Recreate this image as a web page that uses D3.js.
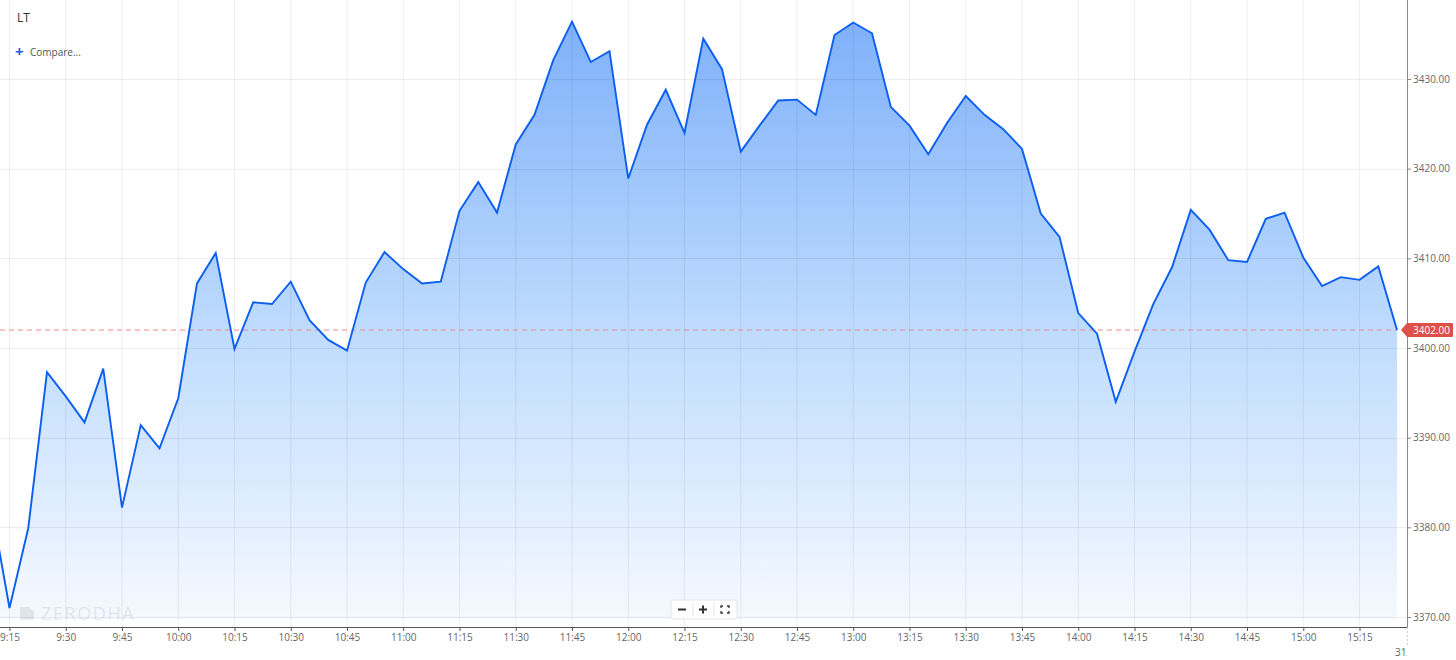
<!DOCTYPE html>
<html>
<head>
<meta charset="utf-8">
<script src="https://cdn.jsdelivr.net/npm/d3@7"></script>
<style>
  html, body { margin: 0; padding: 0; background: #fff; }
  svg { display: block; font-family: "Open Sans", "Noto Sans", sans-serif; }
</style>
</head>
<body>
<svg id="chart" width="1456" height="660"></svg>
<script>
// ---- data ----
const symbol = "LT";
const times = ["9:10","9:15","9:20","9:25","9:30","9:35","9:40","9:45","9:50","9:55",
  "10:00","10:05","10:10","10:15","10:20","10:25","10:30","10:35","10:40","10:45","10:50","10:55",
  "11:00","11:05","11:10","11:15","11:20","11:25","11:30","11:35","11:40","11:45","11:50","11:55",
  "12:00","12:05","12:10","12:15","12:20","12:25","12:30","12:35","12:40","12:45","12:50","12:55",
  "13:00","13:05","13:10","13:15","13:20","13:25","13:30","13:35","13:40","13:45","13:50","13:55",
  "14:00","14:05","14:10","14:15","14:20","14:25","14:30","14:35","14:40","14:45","14:50","14:55",
  "15:00","15:05","15:10","15:15","15:20","15:25"];
const prices = [3382.8,3371.0,3379.9,3397.3,3394.6,3391.7,3397.7,3382.2,3391.4,3388.8,
  3394.4,3407.2,3410.6,3399.9,3405.1,3404.9,3407.4,3403.1,3400.9,3399.7,3407.3,3410.7,
  3408.8,3407.2,3407.4,3415.3,3418.5,3415.1,3422.7,3426.0,3432.1,3436.4,3431.9,3433.1,
  3418.9,3424.9,3428.8,3424.0,3434.5,3431.1,3421.9,3424.8,3427.6,3427.7,3426.0,3434.9,
  3436.3,3435.1,3426.9,3424.8,3421.6,3425.1,3428.1,3426.0,3424.4,3422.2,3415.0,3412.4,
  3403.9,3401.6,3394.0,3399.6,3404.9,3409.0,3415.4,3413.2,3409.8,3409.6,3414.4,3415.1,
  3410.1,3406.9,3407.9,3407.6,3409.1,3402.0];
const lastPrice = 3402.00;
const xTickLabels = ["9:15","9:30","9:45","10:00","10:15","10:30","10:45","11:00","11:15","11:30",
  "11:45","12:00","12:15","12:30","12:45","13:00","13:15","13:30","13:45","14:00","14:15",
  "14:30","14:45","15:00","15:15"];
const yTickValues = [3370,3380,3390,3400,3410,3420,3430];

// ---- helpers ----
const toMin = s => { const [h, m] = s.split(":").map(Number); return h * 60 + m; };
const data = times.map((t, i) => ({ t: toMin(t), v: prices[i] }));

const W = 1456, H = 660;
const plotLeft = 0, plotRight = 1407, plotTop = 0, plotBottom = 627;

const x = d3.scaleLinear()
  .domain([toMin("9:15") - 2.53, toMin("15:25") + 2.66])
  .range([plotLeft, plotRight]);
const y = d3.scaleLinear()
  .domain([3370, 3430])
  .range([617, 79]);

const svg = d3.select("#chart");
const defs = svg.append("defs");
defs.append("clipPath").attr("id", "plotClip")
  .append("rect").attr("x", plotLeft).attr("y", plotTop)
  .attr("width", plotRight - plotLeft).attr("height", plotBottom - plotTop);
defs.append("clipPath").attr("id", "dateClip")
  .append("rect").attr("x", 0).attr("y", plotBottom).attr("width", plotRight).attr("height", 40);

const grad = defs.append("linearGradient").attr("id", "areaGrad")
  .attr("gradientUnits", "userSpaceOnUse")
  .attr("x1", 0).attr("x2", 0).attr("y1", 20).attr("y2", 619);
grad.append("stop").attr("offset", 0).attr("stop-color", "#7fb0fa");
grad.append("stop").attr("offset", 0.5).attr("stop-color", "#bcdafd");
grad.append("stop").attr("offset", 1).attr("stop-color", "#f5f9ff");

const plot = svg.append("g").attr("clip-path", "url(#plotClip)");

// area
const area = d3.area().x(d => x(d.t)).y0(619).y1(d => y(d.v));
plot.append("path").datum(data).attr("d", area).attr("fill", "url(#areaGrad)");

// grid
const grid = plot.append("g");
grid.selectAll("line.v").data(xTickLabels).join("line")
  .attr("x1", d => x(toMin(d))).attr("x2", d => x(toMin(d)))
  .attr("y1", plotTop).attr("y2", plotBottom)
  .attr("stroke", "rgba(0,0,0,0.065)").attr("stroke-width", 1);
grid.selectAll("line.h").data(yTickValues).join("line")
  .attr("x1", plotLeft).attr("x2", plotRight)
  .attr("y1", d => Math.round(y(d)) + 0.5).attr("y2", d => Math.round(y(d)) + 0.5)
  .attr("stroke", "rgba(0,0,0,0.065)").attr("stroke-width", 1);

// watermark
const wm = plot.append("g").attr("opacity", 0.075);
wm.append("path").attr("d", "M20,607 L29,607 L34,612 L34,620 L20,620 Z").attr("fill", "#000");
wm.append("text").attr("x", 41).attr("y", 620).attr("font-size", 18).attr("letter-spacing", 1.6)
  .attr("fill", "#000").text("ZERODHA");

// last price dashed line
plot.append("line")
  .attr("x1", plotLeft).attr("x2", x(data[data.length - 1].t))
  .attr("y1", y(lastPrice)).attr("y2", y(lastPrice))
  .attr("stroke", "#f08a8a").attr("stroke-width", 1).attr("stroke-dasharray", "5,4");

// price line
const line = d3.line().x(d => x(d.t)).y(d => y(d.v));
plot.append("path").datum(data).attr("d", line)
  .attr("fill", "none").attr("stroke", "#0b5ef0").attr("stroke-width", 1.9)
  .attr("stroke-linejoin", "miter");

// bottom axis
const xAxis = d3.axisBottom(x)
  .tickValues(xTickLabels.map(toMin))
  .tickFormat((d, i) => xTickLabels[i])
  .tickSize(4).tickSizeOuter(0);
const gx = svg.append("g").attr("transform", `translate(0,${plotBottom})`).call(xAxis);
gx.select(".domain").attr("stroke", "#555").attr("d", `M0,0.5H${plotRight}`);
gx.selectAll(".tick line").attr("stroke", "#555");
gx.selectAll(".tick text").attr("fill", "#666").attr("font-size", 10)
  .attr("font-family", "Open Sans, sans-serif").attr("dy", "0.95em").attr("y", 4);

// date label (clipped)
svg.append("g").attr("clip-path", "url(#dateClip)")
  .append("text").attr("x", 1395).attr("y", 656).attr("font-size", 10)
  .attr("fill", "#666").text("31/01");
svg.append("line").attr("x1", plotRight + 0.5).attr("x2", plotRight + 0.5)
  .attr("y1", plotBottom).attr("y2", 646)
  .attr("stroke", "#ccc").attr("stroke-dasharray", "2,2");

// right axis
const yAxis = d3.axisRight(y).tickValues(yTickValues)
  .tickFormat(d3.format(".2f")).tickSize(4).tickSizeOuter(0);
const gy = svg.append("g").attr("transform", `translate(${plotRight},0)`).call(yAxis);
gy.select(".domain").attr("stroke", "#888").attr("d", `M0.5,0V${plotBottom}`);
gy.selectAll(".tick line").attr("stroke", "#888");
gy.selectAll(".tick text").attr("fill", "#666").attr("font-size", 10)
  .attr("font-family", "Open Sans, sans-serif").attr("x", 6);

// last price tag
const ly = y(lastPrice);
svg.append("path")
  .attr("d", `M${plotRight - 6},${ly} L${plotRight},${ly - 7} L${W - 4},${ly - 7} Q${W - 3},${ly - 7} ${W - 3},${ly - 6} L${W - 3},${ly + 6} Q${W - 3},${ly + 7} ${W - 4},${ly + 7} L${plotRight},${ly + 7} Z`)
  .attr("fill", "#e0504a");
svg.append("text").attr("x", plotRight + 6).attr("y", ly).attr("dy", "0.36em")
  .attr("font-size", 10).attr("fill", "#fff").text(d3.format(".2f")(lastPrice));

// header
svg.append("text").attr("x", 17).attr("y", 22).attr("font-size", 12)
  .attr("fill", "#333").text(symbol);
svg.append("text").attr("x", 15).attr("y", 57).attr("font-size", 15).attr("font-weight", 700)
  .attr("fill", "#1565e0").text("+");
svg.append("text").attr("x", 30).attr("y", 55.5).attr("font-size", 10)
  .attr("fill", "#555").text("Compare...");

// zoom controls
const zc = svg.append("g").attr("transform", "translate(671,600)");
zc.append("rect").attr("x", 0).attr("y", 0).attr("width", 66).attr("height", 19)
  .attr("fill", "#fff").attr("stroke", "#e4e4e4").attr("rx", 2);
zc.append("line").attr("x1", 22).attr("x2", 22).attr("y1", 3).attr("y2", 16).attr("stroke", "#e6e6e6");
zc.append("line").attr("x1", 43).attr("x2", 43).attr("y1", 3).attr("y2", 16).attr("stroke", "#e6e6e6");
zc.append("line").attr("x1", 7).attr("x2", 15).attr("y1", 9.5).attr("y2", 9.5).attr("stroke", "#333").attr("stroke-width", 2);
zc.append("line").attr("x1", 28).attr("x2", 36).attr("y1", 9.5).attr("y2", 9.5).attr("stroke", "#333").attr("stroke-width", 2);
zc.append("line").attr("x1", 32).attr("x2", 32).attr("y1", 5.5).attr("y2", 13.5).attr("stroke", "#333").attr("stroke-width", 2);
zc.append("path").attr("d", "M50,8 V6 H52 M56,6 H58 V8 M58,11 V13 H56 M52,13 H50 V11")
  .attr("fill", "none").attr("stroke", "#333").attr("stroke-width", 1.3);
</script>
</body>
</html>
